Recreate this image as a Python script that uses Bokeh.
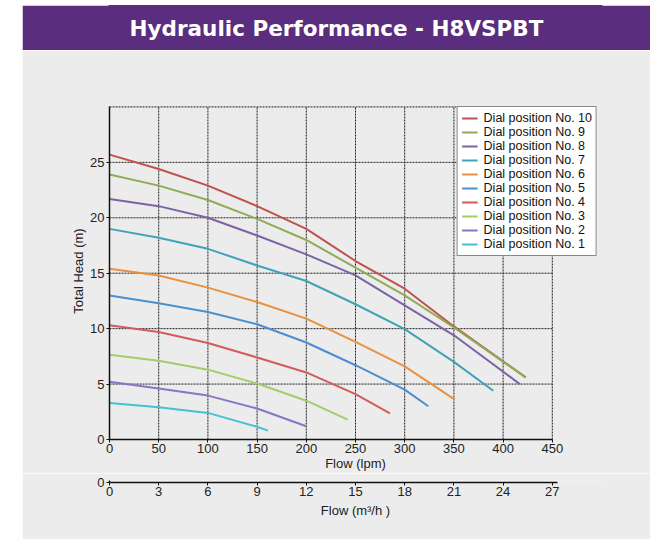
from bokeh.plotting import figure
from bokeh.models import Range1d, FixedTicker, Legend, LegendItem, Label
from bokeh.layouts import column
from bokeh.embed import file_html
from bokeh.resources import INLINE

# ---------------- data (flow in lpm, head in m) ----------------
flow_10 = [0, 50, 100, 150, 200, 250, 300, 350, 423]
head_10 = [25.7, 24.4, 22.9, 21.05, 19.0, 16.1, 13.6, 10.2, 5.6]
flow_9 = [0, 50, 100, 150, 200, 250, 300, 350, 423]
head_9 = [23.9, 22.9, 21.6, 19.9, 18.0, 15.5, 13.0, 10.1, 5.6]
flow_8 = [0, 50, 100, 150, 200, 250, 300, 350, 417]
head_8 = [21.7, 21.05, 20.0, 18.4, 16.7, 14.8, 12.1, 9.4, 5.0]
flow_7 = [0, 50, 100, 150, 200, 250, 300, 350, 390]
head_7 = [19.0, 18.2, 17.2, 15.7, 14.3, 12.2, 9.95, 7.0, 4.4]
flow_6 = [0, 50, 100, 150, 200, 250, 300, 351]
head_6 = [15.4, 14.8, 13.7, 12.4, 10.9, 8.8, 6.6, 3.6]
flow_5 = [0, 50, 100, 150, 200, 250, 300, 324]
head_5 = [13.0, 12.3, 11.5, 10.4, 8.75, 6.7, 4.5, 3.0]
flow_4 = [0, 50, 100, 150, 200, 250, 285]
head_4 = [10.3, 9.7, 8.7, 7.4, 6.05, 4.1, 2.35]
flow_3 = [0, 50, 100, 150, 200, 242]
head_3 = [7.65, 7.1, 6.3, 5.05, 3.5, 1.8]
flow_2 = [0, 50, 100, 150, 200]
head_2 = [5.2, 4.6, 3.96, 2.8, 1.2]
flow_1 = [0, 50, 100, 150, 161]
head_1 = [3.3, 2.9, 2.4, 1.15, 0.8]

series_labels = ["Dial position No. 10", "Dial position No. 9", "Dial position No. 8",
                 "Dial position No. 7", "Dial position No. 6", "Dial position No. 5",
                 "Dial position No. 4", "Dial position No. 3", "Dial position No. 2",
                 "Dial position No. 1"]
series_colors = ["#bf524e", "#8fac55", "#7c64a4", "#41a2b9", "#e8923f",
                 "#4a8fd0", "#d25b5b", "#9fcf68", "#8c73c4", "#45c0d8"]
series_flows = [flow_10, flow_9, flow_8, flow_7, flow_6, flow_5, flow_4, flow_3, flow_2, flow_1]
series_heads = [head_10, head_9, head_8, head_7, head_6, head_5, head_4, head_3, head_2, head_1]

lpm_ticks = [0, 50, 100, 150, 200, 250, 300, 350, 400, 450]
head_ticks = [0, 5, 10, 15, 20, 25]
m3h_ticks = [0, 3, 6, 9, 12, 15, 18, 21, 24, 27]
lpm_max = 450
head_max = 30
m3h_max = 27

title_text = "Hydraulic Performance - H8VSPBT"
x_label = "Flow (lpm)"
y_label = "Total Head (m)"
x2_label = "Flow (m\u00b3/h )"

PURPLE = "#5b2d7e"
GREY = "#ececec"
FONT = "Liberation Sans"
GRIDC = "#1e1e1e"

# common geometry (frames aligned in the column)
FW = 492
ML, MR = 87, 49
X_END = 500           # extra room on the right so the legend is not clipped
Y_END = 30.4
X2_END = X_END * m3h_max / lpm_max

# ---------------- header ----------------
header = figure(frame_width=FW, frame_height=45, min_border_left=ML, min_border_right=MR,
                min_border_top=0, min_border_bottom=0,
                x_range=Range1d(ML / (ML + FW + MR), (ML + FW) / (ML + FW + MR)),
                y_range=Range1d(0, 1),
                toolbar_location=None, output_backend="svg",
                x_axis_location=None, y_axis_location=None,
                background_fill_color=PURPLE, border_fill_color=PURPLE,
                outline_line_color=PURPLE, outline_line_width=2)
header.grid.visible = False
header.add_layout(Label(x=0.5, y=0.5, text=title_text, text_align="center",
                        text_baseline="middle", text_color="white",
                        text_font="DejaVu Sans", text_font_style="bold",
                        text_font_size="21.5px"))

# ---------------- main chart ----------------
p = figure(frame_width=FW, frame_height=337, x_range=Range1d(0, X_END), y_range=Range1d(0, Y_END),
           toolbar_location=None, output_backend="svg",
           min_border_left=ML, min_border_right=MR, min_border_top=52, min_border_bottom=34,
           background_fill_color=GREY, border_fill_color=GREY,
           outline_line_color=GREY, outline_line_width=2)
p.grid.visible = False

# dotted grid (including the top and right border lines of the chart area)
vx = lpm_ticks[1:]
hy = head_ticks[1:] + [head_max]
p.segment(x0=vx, y0=[0] * len(vx), x1=vx, y1=[head_max] * len(vx),
          line_color=GRIDC, line_dash="2 1", line_width=1)
p.segment(x0=[0] * len(hy), y0=hy, x1=[lpm_max] * len(hy), y1=hy,
          line_color=GRIDC, line_dash="2 1", line_width=1)

renderers = []
for fx, hh, c in zip(series_flows, series_heads, series_colors):
    r = p.line(fx, hh, line_color=c, line_width=2)
    renderers.append(r)

p.xaxis.ticker = FixedTicker(ticks=lpm_ticks)
p.yaxis.ticker = FixedTicker(ticks=head_ticks)
p.xaxis.bounds = (0, lpm_max)
p.yaxis.bounds = (0, head_max)


def style_axis(ax):
    ax.axis_line_color = "#111111"
    ax.axis_line_width = 1.5
    ax.major_tick_line_color = "#111111"
    ax.major_tick_out = 3
    ax.major_tick_in = 0
    ax.minor_tick_line_color = None
    ax.major_label_text_font = FONT
    ax.major_label_text_font_size = "13px"
    ax.major_label_text_color = "#222222"
    ax.axis_label_text_font = FONT
    ax.axis_label_text_font_size = "13px"
    ax.axis_label_text_font_style = "normal"
    ax.axis_label_text_color = "#222222"


style_axis(p.xaxis[0])
style_axis(p.yaxis[0])
p.xaxis.axis_label = x_label
p.yaxis.axis_label = y_label
p.xaxis.major_label_standoff = 1
p.xaxis.axis_label_standoff = 0
p.yaxis.major_label_standoff = 2
p.yaxis.axis_label_standoff = 1

legend = Legend(items=[LegendItem(label=l, renderers=[r]) for l, r in zip(series_labels, renderers)],
                location="top_right")
legend.label_text_font = FONT
legend.label_text_font_size = "12.5px"
legend.label_text_color = "#111111"
legend.glyph_width = 16
legend.glyph_height = 10
legend.label_height = 10
legend.label_standoff = 6
legend.spacing = 0
legend.padding = 4
legend.margin = 4
legend.border_line_color = "#111111"
legend.border_line_width = 1
legend.background_fill_color = "white"
legend.background_fill_alpha = 1.0
p.add_layout(legend)

# ---------------- secondary flow axis (m3/h) ----------------
p2 = figure(frame_width=FW, frame_height=2, x_range=Range1d(0, X2_END), y_range=Range1d(0, 1),
            toolbar_location=None, output_backend="svg",
            min_border_left=ML, min_border_right=MR, min_border_top=7, min_border_bottom=57,
            background_fill_color=GREY, border_fill_color=GREY, outline_line_color=None)
p2.grid.visible = False
p2.xaxis.ticker = FixedTicker(ticks=m3h_ticks)
p2.yaxis.ticker = FixedTicker(ticks=[0])
p2.xaxis.bounds = (0, m3h_max + 0.3)
style_axis(p2.xaxis[0])
style_axis(p2.yaxis[0])
p2.xaxis.axis_label = x2_label
p2.xaxis.major_label_standoff = 1
p2.xaxis.axis_label_standoff = 4
p2.yaxis.major_label_standoff = 2

layout = column(header, p, p2, spacing=0, margin=(5, 0, 0, 22))

open("out.html", "w").write(file_html(layout, INLINE))
